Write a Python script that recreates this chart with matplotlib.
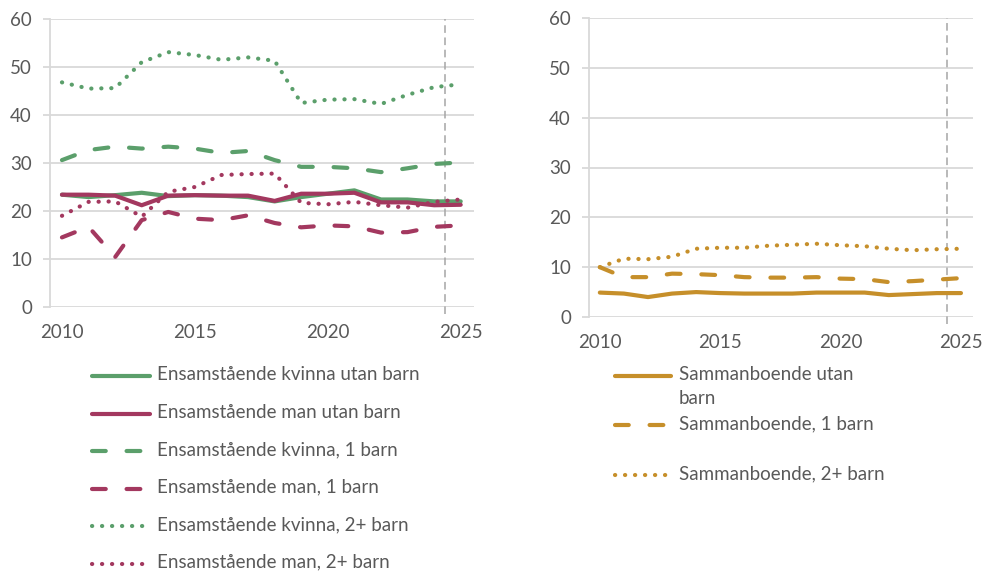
import matplotlib
matplotlib.use("Agg")
import matplotlib.pyplot as plt
from matplotlib.lines import Line2D

plt.rcParams["font.family"] = ["Lato", "DejaVu Sans"]

years = list(range(2010, 2026))
forecast_split = 2024.4

# Ensamstående (left panel)
kvinna_utan = [23.4, 22.9, 23.3, 23.8, 23.1, 23.3, 23.2, 22.9, 22.0, 22.9, 23.6, 24.3, 22.4, 22.4, 22.0, 22.0]
man_utan = [23.4, 23.4, 23.2, 21.2, 23.2, 23.3, 23.2, 23.2, 22.1, 23.6, 23.6, 23.8, 21.8, 21.8, 21.2, 21.3]
kvinna_1 = [30.6, 32.7, 33.4, 33.0, 33.4, 33.0, 32.1, 32.5, 30.6, 29.2, 29.2, 28.9, 28.1, 28.9, 29.8, 30.1]
man_1 = [14.5, 16.7, 10.4, 18.1, 19.8, 18.4, 18.1, 19.1, 17.5, 16.6, 17.0, 16.8, 15.5, 15.6, 16.7, 17.0]
kvinna_2 = [46.8, 45.5, 45.6, 51.0, 53.1, 52.5, 51.5, 52.0, 51.3, 42.5, 43.2, 43.3, 42.3, 44.2, 45.8, 46.4]
man_2 = [19.0, 21.9, 22.0, 18.8, 24.0, 25.0, 27.5, 27.7, 27.8, 21.7, 21.4, 21.9, 21.2, 20.7, 21.9, 22.4]

# Sammanboende (right panel)
samman_utan = [4.9, 4.7, 4.0, 4.7, 5.0, 4.8, 4.7, 4.7, 4.7, 4.9, 4.9, 4.9, 4.4, 4.6, 4.8, 4.8]
samman_1 = [10.0, 8.0, 8.0, 8.7, 8.6, 8.4, 8.0, 7.9, 7.9, 8.0, 7.7, 7.6, 7.0, 7.2, 7.5, 7.8]
samman_2 = [10.0, 11.7, 11.6, 12.1, 13.7, 13.9, 13.9, 14.3, 14.5, 14.7, 14.4, 14.2, 13.7, 13.4, 13.6, 13.7]

GREEN = "#5b9f6b"
MAGENTA = "#a3385f"
GOLD = "#c68f2a"
GRID = "#d9d9d9"
TEXT = "#595959"
LW = 3.0
FS = 13.5

STYLES = {
    "solid": dict(linestyle="-", solid_capstyle="round"),
    "dash": dict(linestyle=(0, (3.3, 5.0)), dash_capstyle="round"),
    "dot": dict(linestyle=(0, (0.05, 2.35)), dash_capstyle="round"),
}

left_series = [
    ("Ensamstående kvinna utan barn", kvinna_utan, GREEN, "solid"),
    ("Ensamstående man utan barn", man_utan, MAGENTA, "solid"),
    ("Ensamstående kvinna, 1 barn", kvinna_1, GREEN, "dash"),
    ("Ensamstående man, 1 barn", man_1, MAGENTA, "dash"),
    ("Ensamstående kvinna, 2+ barn", kvinna_2, GREEN, "dot"),
    ("Ensamstående man, 2+ barn", man_2, MAGENTA, "dot"),
]
right_series = [
    ("Sammanboende utan\nbarn", samman_utan, GOLD, "solid"),
    ("Sammanboende, 1 barn", samman_1, GOLD, "dash"),
    ("Sammanboende, 2+ barn", samman_2, GOLD, "dot"),
]

W, H = 982, 574
fig = plt.figure(figsize=(W / 100, H / 100), dpi=100)


def px_axes(x0, y0, x1, y1):
    # pixel box (top-left origin) -> figure fraction axes
    return fig.add_axes([x0 / W, 1 - y1 / H, (x1 - x0) / W, (y1 - y0) / H])


def style_axes(ax):
    ax.set_xlim(2009.55, 2025.5)
    ax.set_ylim(0, 60)
    ax.set_yticks(range(0, 61, 10))
    ax.set_xticks([2010, 2015, 2020, 2025])
    ax.grid(axis="y", color=GRID, lw=1.3)
    ax.set_axisbelow(True)
    for s in ("top", "right", "bottom"):
        ax.spines[s].set_visible(False)
    ax.spines["left"].set_color(GRID)
    ax.spines["left"].set_linewidth(1.3)
    ax.tick_params(axis="y", length=5, width=1.3, color=GRID, pad=8,
                   labelsize=FS, labelcolor=TEXT)
    ax.tick_params(axis="x", length=0, pad=12, labelsize=FS, labelcolor=TEXT)
    ax.axvline(forecast_split, ymin=-0.025, ymax=1.0, color="#a6a6a6", lw=1.1,
               linestyle=(0, (5, 3)), clip_on=False, zorder=1)


def draw(ax, series):
    for label, vals, color, st in series:
        ax.plot(years, vals, color=color, lw=LW, zorder=3, **STYLES[st])


def legend_rows(x_handle, x_text, rows, series):
    for (label, _, color, st), y in zip(series, rows):
        fy = 1 - y / H
        fig.add_artist(Line2D([x_handle[0] / W, x_handle[1] / W], [fy, fy],
                              transform=fig.transFigure, color=color, lw=LW,
                              **STYLES[st]))
        fig.text(x_text / W, 1 - (y - 10) / H, label, fontsize=FS, color=TEXT,
                 va="top", ha="left", linespacing=1.5)


ax_l = px_axes(50, 19, 474, 307)
style_axes(ax_l)
draw(ax_l, left_series)

ax_r = px_axes(589, 18, 973, 317)
style_axes(ax_r)
draw(ax_r, right_series)

legend_rows((92, 150), 157, [376 + 37.5 * i for i in range(6)], left_series)
legend_rows((615, 671), 679, [376, 425, 475], right_series)

fig.savefig("out.png", dpi=100)
